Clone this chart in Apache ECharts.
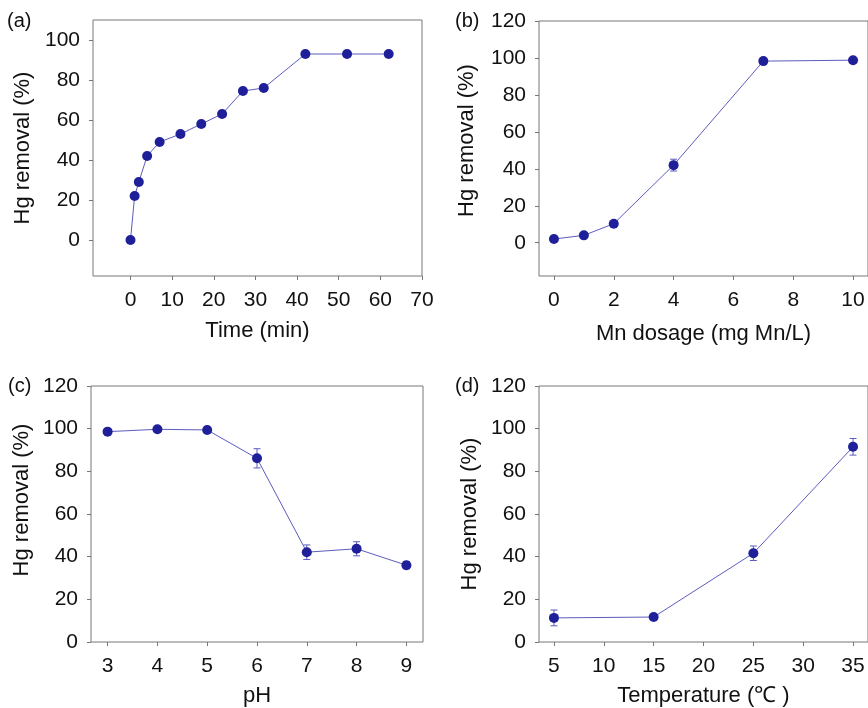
<!DOCTYPE html>
<html>
<head>
<meta charset="utf-8">
<script src="https://cdn.jsdelivr.net/npm/echarts@6/dist/echarts.min.js"></script>
<style>html,body{margin:0;padding:0;background:#fff}#c{width:868px;height:708px}</style>
</head>
<body>
<div id="c"></div>
<script>
// ---- data ----
const timeMin = [0, 1, 2, 4, 7, 12, 17, 22, 27, 32, 42, 52, 62];
const timeRemoval = [0, 22, 29, 42, 49, 53, 58, 63, 74.5, 76, 93, 93, 93];
const mnDose = [0, 1, 2, 4, 7, 10];
const mnRemoval = [2, 4, 10.3, 42, 98.3, 98.8];
const mnErr = [0.8, 0.8, 1, 3.2, 1, 0.8];
const phVals = [3, 4, 5, 6, 7, 8, 9];
const phRemoval = [98.6, 99.7, 99.4, 86.1, 42.1, 43.7, 36];
const phErr = [0.8, 0.5, 0.6, 4.5, 3.4, 3.3, 1.7];
const tempVals = [5, 15, 25, 35];
const tempRemoval = [11.3, 11.7, 41.6, 91.5];
const tempErr = [3.7, 0.8, 3.4, 3.9];

const timeTicks = [0, 10, 20, 30, 40, 50, 60, 70];
const mnTicks = [0, 2, 4, 6, 8, 10];
const phTicks = [3, 4, 5, 6, 7, 8, 9];
const tempTicks = [5, 10, 15, 20, 25, 30, 35];
const yTicksA = [0, 20, 40, 60, 80, 100];
const yTicksB = [0, 20, 40, 60, 80, 100, 120];

const FONT = "'Liberation Sans', Arial, sans-serif";
const MARK = '#1f1f99';
const LINE = '#5c5cbd';
const FRAME = '#777';

const chart = echarts.init(document.getElementById('c'));

function pairs(xs, ys) { return xs.map((x, i) => [x, ys[i]]); }
function errData(xs, ys, es) { return xs.map((x, i) => [x, ys[i] - es[i], ys[i] + es[i]]); }

function xAxisCfg(idx, min, max, ticks, name, gap) {
  return {
    type: 'value', gridIndex: idx, min: min, max: max,
    name: name, nameLocation: 'middle', nameGap: gap,
    nameTextStyle: { fontFamily: FONT, fontSize: 22, color: '#111' },
    axisLine: { show: false, onZero: false },
    splitLine: { show: false },
    axisTick: { show: true, customValues: ticks, length: 4, inside: false, lineStyle: { color: FRAME } },
    axisLabel: { customValues: ticks, fontFamily: FONT, fontSize: 21, color: '#111', margin: 14 }
  };
}
function yAxisCfg(idx, min, max, ticks, gap, shiftUp) {
  return {
    type: 'value', gridIndex: idx, min: min, max: max,
    name: 'Hg removal (%)', nameLocation: 'middle', nameGap: gap,
    nameTextStyle: { fontFamily: FONT, fontSize: 22, color: '#111', padding: [0, 0, 0, shiftUp * 2] },
    axisLine: { show: false, onZero: false },
    splitLine: { show: false },
    axisTick: { show: true, customValues: ticks, length: 4, inside: false, lineStyle: { color: FRAME } },
    axisLabel: { customValues: ticks, fontFamily: FONT, fontSize: 21, color: '#111', margin: 13 }
  };
}
function gridCfg(left, top, width, height) {
  return { left: left, top: top, width: width, height: height, show: true, borderColor: FRAME, borderWidth: 1, backgroundColor: 'transparent' };
}
function lineSeries(idx, data) {
  return {
    type: 'line', xAxisIndex: idx, yAxisIndex: idx, data: data, z: 3,
    symbol: 'circle', symbolSize: 10, showSymbol: true,
    itemStyle: { color: MARK },
    lineStyle: { color: LINE, width: 1 },
    animation: false
  };
}
function errSeries(idx, data) {
  return {
    type: 'custom', xAxisIndex: idx, yAxisIndex: idx, data: data, z: 2,
    animation: false,
    renderItem: function (params, api) {
      const x = api.value(0);
      const p1 = api.coord([x, api.value(1)]);
      const p2 = api.coord([x, api.value(2)]);
      const w = 3.5;
      const st = { stroke: LINE, lineWidth: 1 };
      return {
        type: 'group', children: [
          { type: 'line', shape: { x1: p1[0], y1: p1[1], x2: p2[0], y2: p2[1] }, style: st },
          { type: 'line', shape: { x1: p1[0] - w, y1: p1[1], x2: p1[0] + w, y2: p1[1] }, style: st },
          { type: 'line', shape: { x1: p2[0] - w, y1: p2[1], x2: p2[0] + w, y2: p2[1] }, style: st }
        ]
      };
    }
  };
}

const option = {
  backgroundColor: '#fff',
  animation: false,
  textStyle: { fontFamily: FONT },
  grid: [
    gridCfg(93, 20, 329, 256),
    gridCfg(539, 21, 330, 255),
    gridCfg(91, 386, 332, 256),
    gridCfg(539, 386, 330, 256)
  ],
  xAxis: [
    xAxisCfg(0, -9, 70, timeTicks, 'Time (min)', 44),
    xAxisCfg(1, -0.5, 10.5, mnTicks, 'Mn dosage (mg Mn/L)', 47),
    xAxisCfg(2, 3 - 1 / 3, 9 + 1 / 3, phTicks, 'pH', 43),
    xAxisCfg(3, 3.5, 36.5, tempTicks, 'Temperature (℃ )', 43)
  ],
  yAxis: [
    yAxisCfg(0, -18, 110, yTicksA, 59, 0),
    yAxisCfg(1, -18, 120, yTicksB, 61, 8),
    yAxisCfg(2, 0, 120, yTicksB, 58, 14),
    yAxisCfg(3, 0, 120, yTicksB, 58, 0)
  ],
  series: [
    lineSeries(0, pairs(timeMin, timeRemoval)),
    errSeries(1, errData(mnDose, mnRemoval, mnErr)),
    lineSeries(1, pairs(mnDose, mnRemoval)),
    errSeries(2, errData(phVals, phRemoval, phErr)),
    lineSeries(2, pairs(phVals, phRemoval)),
    errSeries(3, errData(tempVals, tempRemoval, tempErr)),
    lineSeries(3, pairs(tempVals, tempRemoval))
  ],
  graphic: [
    { type: 'text', left: 7, top: 11, style: { text: '(a)', font: '20px ' + FONT, fill: '#111' } },
    { type: 'text', left: 455, top: 11, style: { text: '(b)', font: '20px ' + FONT, fill: '#111' } },
    { type: 'text', left: 8, top: 376, style: { text: '(c)', font: '20px ' + FONT, fill: '#111' } },
    { type: 'text', left: 455, top: 376, style: { text: '(d)', font: '20px ' + FONT, fill: '#111' } }
  ]
};
chart.setOption(option);
</script>
</body>
</html>
